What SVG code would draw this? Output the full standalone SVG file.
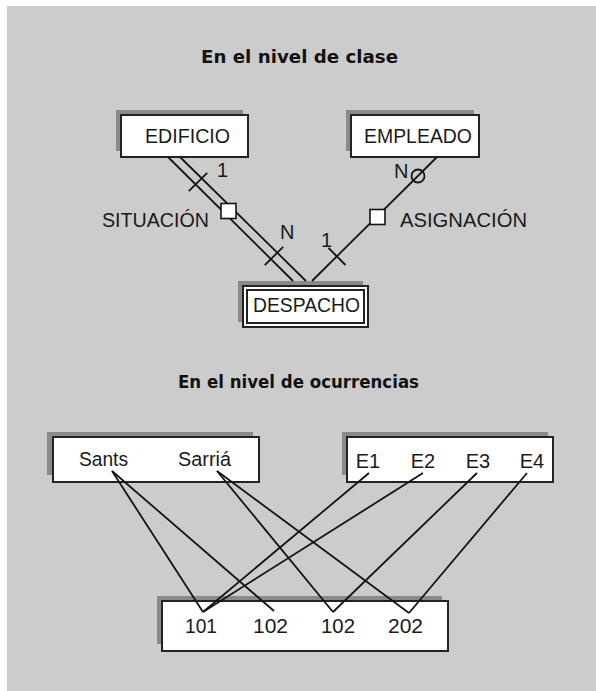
<svg xmlns="http://www.w3.org/2000/svg" width="596" height="691" viewBox="0 0 596 691">
<style>
.bg{fill:#cccccc}
.sh{fill:#8a8a8a}
.box{fill:#ffffff;stroke:#222222;stroke-width:2}
.lbl{font-family:"Liberation Sans",Arial,sans-serif;font-size:20px;fill:#1a1a1a}
.mid{text-anchor:middle}
.ttl{font-family:"DejaVu Sans",sans-serif;font-weight:bold;font-size:18px;fill:#111111}
.ln{stroke:#141414;stroke-width:1.8;fill:none}
.sq{fill:#ffffff;stroke:#141414;stroke-width:1.6}
</style>
<rect class="bg" x="7" y="6" width="589" height="685"/>
<text class="ttl" x="299.5" y="63" text-anchor="middle" textLength="197" lengthAdjust="spacingAndGlyphs">En el nivel de clase</text>
<text class="ttl" x="298.5" y="388" text-anchor="middle" textLength="241" lengthAdjust="spacingAndGlyphs">En el nivel de ocurrencias</text>

<g id="edificio">
  <rect class="sh" x="116" y="110" width="127" height="41"/>
  <rect class="box" x="121" y="115" width="127" height="42"/>
  <text class="lbl" x="145" y="143" textLength="85" lengthAdjust="spacingAndGlyphs">EDIFICIO</text>
</g>
<g id="empleado">
  <rect class="sh" x="346" y="110" width="128" height="41"/>
  <rect class="box" x="351" y="115" width="128" height="42"/>
  <text class="lbl" x="364" y="143" textLength="108" lengthAdjust="spacingAndGlyphs">EMPLEADO</text>
</g>
<g id="despacho">
  <rect class="sh" x="238" y="281" width="125" height="41"/>
  <rect class="box" x="243" y="286" width="125" height="41"/>
  <rect class="box" x="247" y="290" width="117" height="33" stroke-width="1.6"/>
  <text class="lbl" x="253" y="312" textLength="107" lengthAdjust="spacingAndGlyphs">DESPACHO</text>
</g>

<g id="barrios">
  <rect class="sh" x="47" y="432" width="206" height="43"/>
  <rect class="box" x="53" y="437" width="206" height="45"/>
  <text class="lbl" x="79" y="466" textLength="49" lengthAdjust="spacingAndGlyphs">Sants</text>
  <text class="lbl" x="178" y="466" textLength="53" lengthAdjust="spacingAndGlyphs">Sarriá</text>
</g>
<g id="empleados">
  <rect class="sh" x="342" y="432" width="206" height="43"/>
  <rect class="box" x="347" y="437" width="206" height="45"/>
  <text class="lbl mid" x="368" y="468">E1</text>
  <text class="lbl mid" x="423" y="468">E2</text>
  <text class="lbl mid" x="478" y="468">E3</text>
  <text class="lbl mid" x="532" y="468">E4</text>
</g>
<g id="despachos">
  <rect class="sh" x="157" y="596" width="285" height="48"/>
  <rect class="box" x="162" y="601" width="286" height="50"/>
  <text class="lbl" x="185" y="633" textLength="32" lengthAdjust="spacingAndGlyphs">101</text>
  <text class="lbl" x="253" y="633" textLength="35" lengthAdjust="spacingAndGlyphs">102</text>
  <text class="lbl" x="321" y="633" textLength="34" lengthAdjust="spacingAndGlyphs">102</text>
  <text class="lbl" x="388" y="633" textLength="35" lengthAdjust="spacingAndGlyphs">202</text>
</g>

<g id="connectors">
  <line class="ln" x1="168" y1="157" x2="293" y2="281"/>
  <line class="ln" x1="180" y1="157" x2="306" y2="281"/>
  <line class="ln" x1="437" y1="157" x2="312" y2="281"/>
  <line class="ln" x1="188.8" y1="191.2" x2="207.2" y2="172.8"/>
  <line class="ln" x1="264.8" y1="265.2" x2="283.2" y2="246.8"/>
  <line class="ln" x1="328.5" y1="248" x2="345.5" y2="265"/>
  <circle class="ln" cx="418" cy="176" r="6.5"/>
  <rect class="sq" x="221" y="203.5" width="15" height="15"/>
  <rect class="sq" x="370" y="209.5" width="15" height="15"/>
  <line class="ln" x1="112" y1="471" x2="203" y2="612"/>
  <line class="ln" x1="112" y1="471" x2="274" y2="611"/>
  <line class="ln" x1="217" y1="471" x2="333" y2="612"/>
  <line class="ln" x1="217" y1="471" x2="409" y2="613"/>
  <line class="ln" x1="369" y1="473" x2="203" y2="612"/>
  <line class="ln" x1="423" y1="473" x2="203" y2="612"/>
  <line class="ln" x1="477" y1="473" x2="333" y2="612"/>
  <line class="ln" x1="527" y1="473" x2="409" y2="613"/>
</g>
<g id="labels">
  <text class="lbl" x="217" y="177">1</text>
  <text class="lbl" x="280" y="239">N</text>
  <text class="lbl" x="321" y="247">1</text>
  <text class="lbl" x="394" y="178">N</text>
  <text class="lbl" x="102" y="227" textLength="107" lengthAdjust="spacingAndGlyphs">SITUACIÓN</text>
  <text class="lbl" x="400" y="227" textLength="127" lengthAdjust="spacingAndGlyphs">ASIGNACIÓN</text>
</g>
</svg>
